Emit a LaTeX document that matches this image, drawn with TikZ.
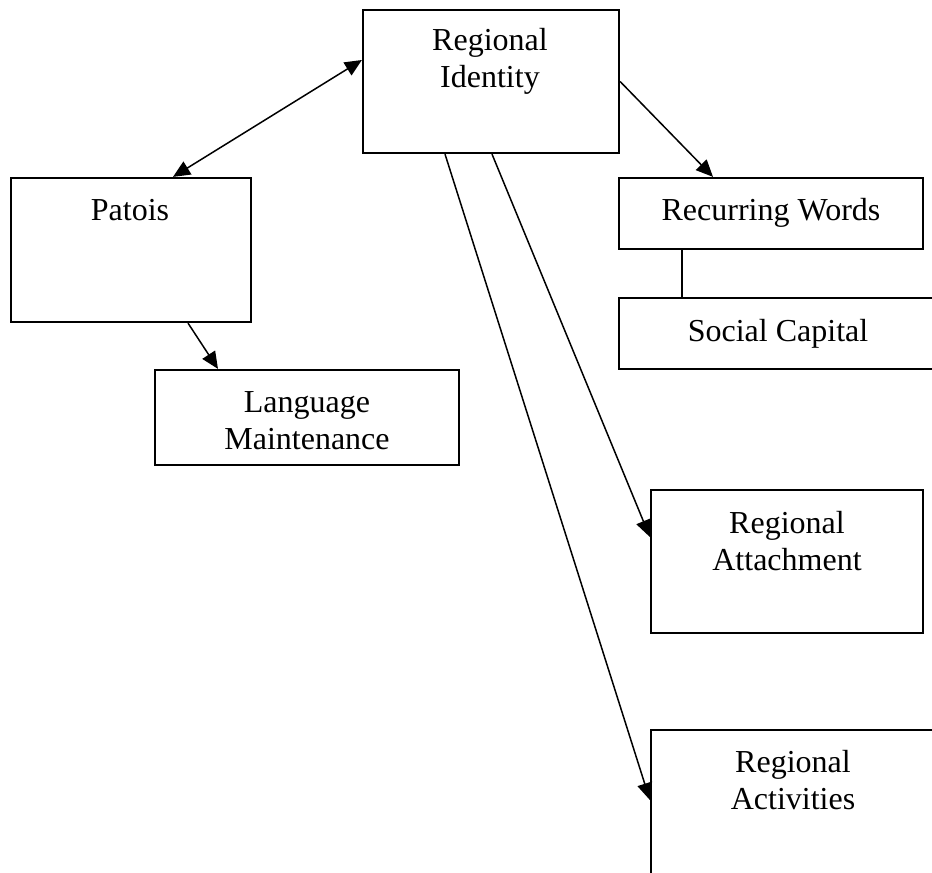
\documentclass[tikz,border=0pt]{standalone}
\usepackage{fontspec}
\setmainfont{Liberation Serif}
\usetikzlibrary{arrows.meta,calc}
\tikzset{
  box/.style={draw=black, line width=2.2pt, rectangle, inner sep=0pt},
  lbl/.style={align=center, font=\fontsize{32}{37}\selectfont, inner sep=0pt},
  conn/.style={line width=1.5pt},
  arr/.style={conn, -{Triangle[length=17pt,width=15pt]}},
  darr/.style={conn, {Triangle[length=17pt,width=15pt]}-{Triangle[length=17pt,width=15pt]}}
}
\begin{document}
\begin{tikzpicture}[x=1pt,y=-1pt]
\clip (0,0) rectangle (932,873);
\fill[white] (0,0) rectangle (932,873);
% boxes
\node[box, minimum width=256pt, minimum height=143pt] (ri) at (491,81.5) {};
\node[box, minimum width=240pt, minimum height=144pt] (pat) at (131,250) {};
\node[box, minimum width=304pt, minimum height=95pt] (lm) at (307,417.5) {};
\node[box, minimum width=304pt, minimum height=71pt] (rw) at (771,213.5) {};
\node[box, minimum width=326pt, minimum height=71pt] (sc) at (782,333.5) {};
\node[box, minimum width=272pt, minimum height=143pt] (ra) at (787,561.5) {};
\node[box, minimum width=294pt, minimum height=170pt] (rac) at (798,815) {};
% texts
\node[lbl] (riT) at (490,61) {Regional\\Identity};
\node[lbl] (patT) at (130,210) {Patois};
\node[lbl] (lmT) at (307,421) {Language\\Maintenance};
\node[lbl] (rwT) at (771,213) {Recurring Words};
\node[lbl] (scT) at (778,334) {Social Capital};
\node[lbl] (raT) at (787,541) {Regional\\Attachment};
\node[lbl] (racT) at (793,780) {Regional\\Activities};
% connectors
\draw[darr] ([xshift=42pt]pat.north) -- ([yshift=21.5pt]ri.west);
\draw[arr] ([xshift=57pt]pat.south) -- ([xshift=-89pt]lm.north);
\draw[arr] (ri.east) -- ([xshift=-58pt]rw.north);
\draw[arr] ([xshift=1pt]ri.south) -- ([yshift=24.5pt]ra.west);
\draw[arr] ([xshift=-46pt]ri.south) -- ([yshift=15pt]rac.west);
\draw[conn] ([xshift=-89pt]rw.south) -- ([xshift=-89pt]rw.south |- sc.north);
\end{tikzpicture}
\end{document}
